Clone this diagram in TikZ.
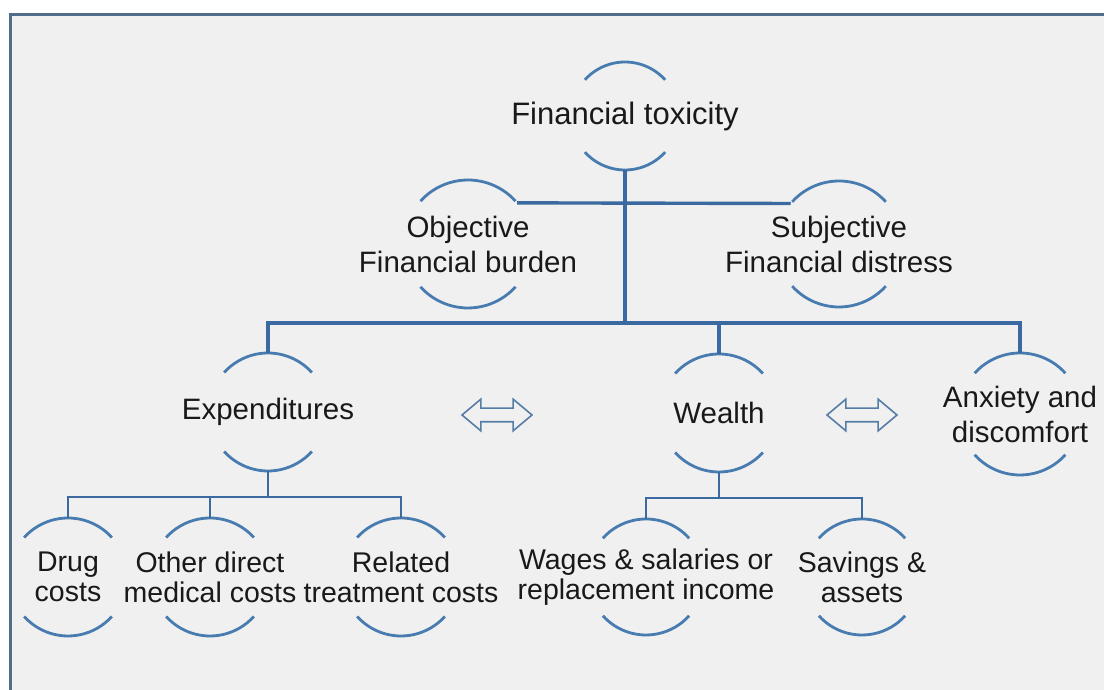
\documentclass[tikz,border=0pt]{standalone}
\usepackage{fontspec}
\setmainfont{Liberation Sans}
\usetikzlibrary{shapes.arrows}
\definecolor{linkblue}{RGB}{58,106,160}
\definecolor{arcblue}{RGB}{72,124,176}
\definecolor{framecol}{RGB}{80,110,140}
\definecolor{arrowblue}{RGB}{85,125,165}
\definecolor{paper}{RGB}{240,240,240}
\definecolor{ink}{RGB}{25,25,25}

\begin{document}
\begin{tikzpicture}[x=1pt,y=1pt]
\tikzset{
	topic/.style={shape=circle, inner sep=0pt, outer sep=0pt, minimum size={2*#1pt}},
	toptext/.style={font=\fontsize{31}{36}\selectfont, text=ink, align=center, inner sep=0pt},
	midtext/.style={font=\fontsize{29.5}{35}\selectfont, text=ink, align=center, inner sep=0pt},
	lowtext/.style={font=\fontsize{28.5}{30}\selectfont, text=ink, align=center, inner sep=0pt},
	arcline/.style={draw=arcblue, line width=2.8pt},
	mainline/.style={draw=linkblue, line width=3.4pt},
	subline/.style={draw=linkblue, line width=2.4pt},
	twoway/.style={shape=double arrow, draw=arrowblue, line width=1.6pt, fill=paper,
		minimum height=70pt, inner xsep=0pt, inner ysep=6pt,
		double arrow head extend=9pt, double arrow tip angle=80}
}
\useasboundingbox (0,0) rectangle (1104,690);
\fill[white] (0,0) rectangle (1104,690);
\fill[paper] (10,0) rectangle (1104,675);
\draw[framecol, line width=3pt] (10,-5) -- (10,675) -- (1110,675);

%top
\node[topic=54, label={[toptext]center:Financial toxicity}] (tox) at (625,574) {};
\node[topic=64, label={[midtext]center:{Objective\\Financial burden}}] (obj) at (468,446) {};
\node[topic=63, label={[midtext]center:{Subjective\\Financial distress}}] (subj) at (839,446) {};

%middle
\node[topic=59, label={[midtext]center:Expenditures}] (exp) at (268,278) {};
\node[topic=59, label={[midtext]center:Wealth}] (wea) at (719,277) {};
\node[topic=61, label={[midtext]center:{Anxiety and\\discomfort}}] (anx) at (1020,276) {};

%bottom
\node[topic=59, label={[lowtext]center:{Drug\\costs}}] (drug) at (68,113) {};
\node[topic=59, label={[lowtext]center:{Other direct\\medical costs}}] (other) at (210,113) {};
\node[topic=59, label={[lowtext]center:{Related\\treatment costs}}] (rel) at (401,113) {};
\node[topic=58, label={[lowtext]center:{Wages \& salaries or\\replacement income}}] (wag) at (646,113) {};
\node[topic=58, label={[lowtext]center:{Savings \&\\assets}}] (sav) at (862,113) {};

%arrows
\node[twoway] (ewA) at (497,275) {};
\node[twoway] (waA) at (862,275) {};

%arcs
\foreach \n/\r in {tox/54, obj/64, subj/63, exp/59, wea/59, anx/61, drug/59, other/59, rel/59, wag/58, sav/58}
	\draw[arcline] (\n.42) arc[start angle=42, end angle=138, radius=\r]
		(\n.222) arc[start angle=222, end angle=318, radius=\r];

%branches
\coordinate (bus) at (625,367);
\coordinate (expbus) at (268,193);
\coordinate (weabus) at (719,192);

\draw[mainline] (obj.40) -- (subj.140);
\draw[mainline] (tox.south) -- (bus);
\draw[mainline] (exp.north) |- (bus) -| (anx.north);
\draw[mainline] (wea.north) -- (wea.north |- bus);

\draw[subline] (exp.south) -- (expbus);
\draw[subline] (drug.north) |- (expbus) -| (rel.north);
\draw[subline] (other.north) -- (other.north |- expbus);

\draw[subline] (wea.south) -- (weabus);
\draw[subline] (wag.north) |- (weabus) -| (sav.north);
\end{tikzpicture}
\end{document}
